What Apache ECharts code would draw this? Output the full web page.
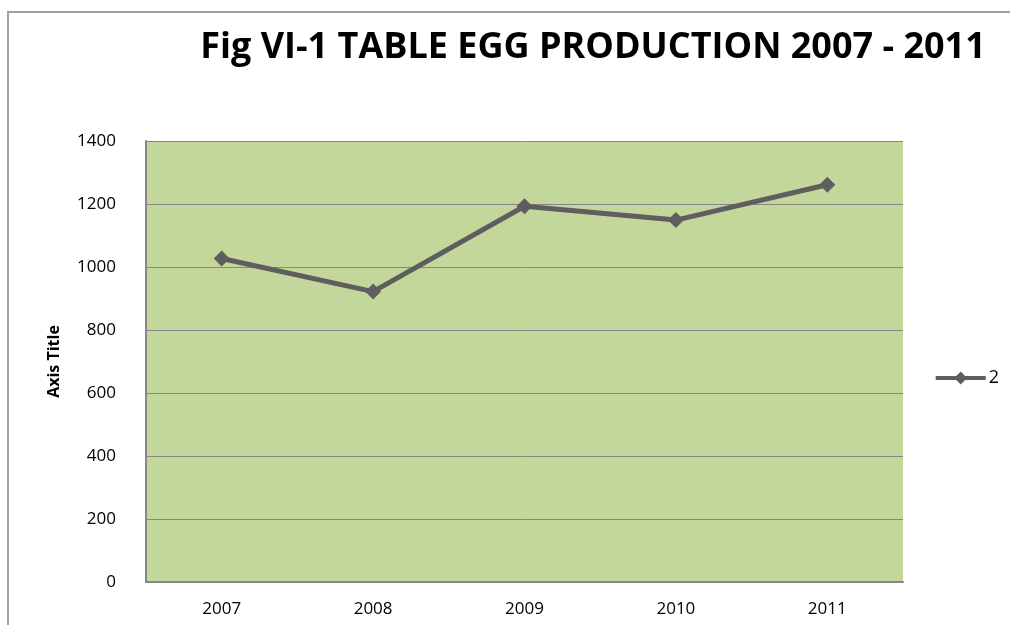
<!DOCTYPE html>
<html>
<head>
<meta charset="utf-8">
<script src="https://cdn.jsdelivr.net/npm/echarts@6/dist/echarts.min.js"></script>
<style>
  html, body { margin: 0; padding: 0; background: #fff; }
  #chart { width: 1010px; height: 625px; }
</style>
</head>
<body>
<div id="chart"></div>
<script>
// data
const years = ['2007', '2008', '2009', '2010', '2011'];
const production = [1027, 922, 1193, 1149, 1261];
const seriesName = '2';
const titleText = 'Fig VI-1 TABLE EGG PRODUCTION 2007 - 2011';

const FONT = '"Open Sans", "Noto Sans", sans-serif';
const lineColor = '#5e5e5e';
const gridColor = '#868686';

const chart = echarts.init(document.getElementById('chart'));
chart.setOption({
    animation: false,
    textStyle: { fontFamily: FONT },
    title: {
        text: titleText,
        left: 588,
        textAlign: 'center',
        top: 25,
        textStyle: { fontSize: 36, fontWeight: 'bold', color: '#000', fontFamily: FONT }
    },
    graphic: [{
        type: 'rect',
        shape: { x: 8, y: 12, width: 1100, height: 700 },
        style: { fill: 'none', stroke: '#a0a0a0', lineWidth: 2 },
        silent: true
    }],
    legend: {
        right: 6,
        top: 364,
        itemWidth: 50,
        itemHeight: 16,
        itemGap: 4,
        data: [seriesName],
        lineStyle: { width: 4 },
        textStyle: { fontSize: 18, color: '#000', padding: [0, 0, 0, -2] }
    },
    grid: {
        left: 146,
        right: 107,
        top: 141,
        bottom: 43,
        show: true,
        backgroundColor: '#c4d79b',
        borderWidth: 0
    },
    xAxis: {
        type: 'category',
        data: years,
        boundaryGap: true,
        axisLine: { show: true, lineStyle: { color: gridColor, width: 2 } },
        axisTick: { show: false },
        axisLabel: { color: '#000', fontSize: 17, margin: 19 },
        splitLine: { show: false }
    },
    yAxis: {
        type: 'value',
        min: 0,
        max: 1400,
        interval: 200,
        name: 'Axis Title',
        nameLocation: 'middle',
        nameGap: 84,
        nameTextStyle: { fontSize: 16, fontWeight: 'bold', color: '#000' },
        axisLine: { show: true, lineStyle: { color: gridColor, width: 2 } },
        axisTick: { show: false },
        axisLabel: { color: '#000', fontSize: 17, margin: 30, formatter: v => String(v) },
        splitLine: { show: true, lineStyle: { color: gridColor, width: 1 } }
    },
    series: [{
        name: seriesName,
        type: 'line',
        data: production,
        symbol: 'diamond',
        symbolSize: 16,
        lineStyle: { color: lineColor, width: 5 },
        itemStyle: { color: lineColor }
    }]
});
</script>
</body>
</html>
